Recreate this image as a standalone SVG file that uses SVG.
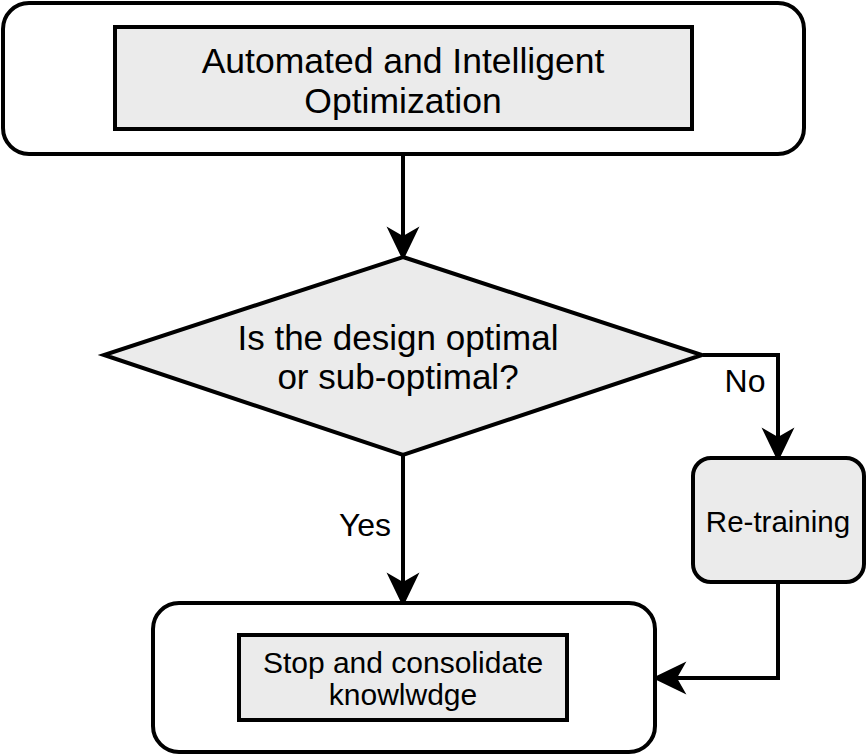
<svg xmlns="http://www.w3.org/2000/svg" width="868" height="755" viewBox="0 0 868 755">
<style>
.outer{fill:#ffffff;stroke:#000;stroke-width:4}
.box{fill:#ebebeb;stroke:#000;stroke-width:4}
.t{font-family:"Liberation Sans",Arial,sans-serif;fill:#000;text-anchor:middle}
.edge{fill:none;stroke:#000;stroke-width:4;stroke-linejoin:miter}
</style>
<defs>
<marker id="arr" markerUnits="userSpaceOnUse" markerWidth="40" markerHeight="40" refX="0" refY="0" viewBox="-10 -16 34 32" orient="auto" overflow="visible">
<path d="M-8,-14 L21,0 L-8,14 L0,0 Z" fill="#000"/>
</marker>
</defs>
<rect width="868" height="755" fill="#ffffff"/>
<g id="connectors">
<path class="edge" d="M403,155 V236" marker-end="url(#arr)"/>
<path class="edge" d="M403,456 V582" marker-end="url(#arr)"/>
<path class="edge" d="M703,355 H778 V437" marker-end="url(#arr)"/>
<path class="edge" d="M778,582 V678 H677" marker-end="url(#arr)"/>
<text class="t" x="745" y="392" font-size="32">No</text>
<text class="t" x="365" y="536" font-size="32">Yes</text>
</g>
<g id="node-optimization">
<rect class="outer" x="3" y="3" width="801" height="151" rx="26"/>
<rect class="box" x="115" y="27" width="577" height="102"/>
<text class="t" x="403" y="73" font-size="35.5">Automated and Intelligent</text>
<text class="t" x="403" y="113" font-size="35.5">Optimization</text>
</g>
<g id="node-decision">
<polygon class="box" points="403,257 702,355 403,455 104,355" stroke-miterlimit="10"/>
<text class="t" x="398" y="350" font-size="35">Is the design optimal</text>
<text class="t" x="398" y="389" font-size="35">or sub-optimal?</text>
</g>
<g id="node-retraining">
<rect class="box" x="693" y="458" width="171" height="124" rx="18"/>
<text class="t" x="778" y="532" font-size="29.5">Re-training</text>
</g>
<g id="node-stop">
<rect class="outer" x="153" y="603" width="502" height="149" rx="26"/>
<rect class="box" x="239" y="635" width="328" height="85"/>
<text class="t" x="403" y="673" font-size="30">Stop and consolidate</text>
<text class="t" x="403" y="705" font-size="30">knowlwdge</text>
</g>
</svg>
